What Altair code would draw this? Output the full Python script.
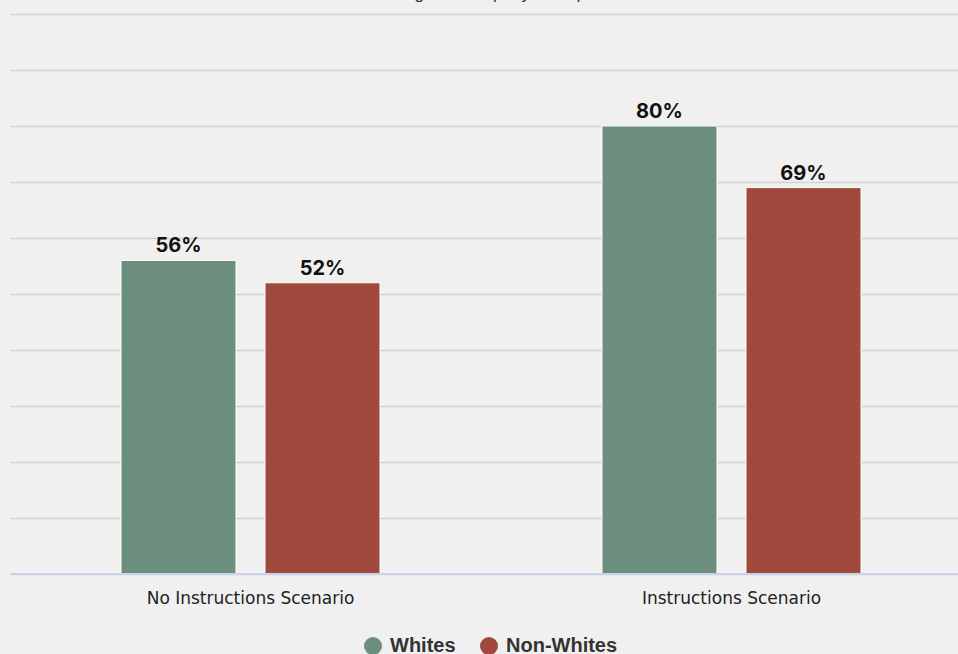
import altair as alt
import pandas as pd

scenarios = ["No Instructions Scenario", "Instructions Scenario"]
groups = ["Whites", "Non-Whites"]
whites = [56, 80]
non_whites = [52, 69]
title_text = "Percentage of Company's Responses"

rows = []
for i, s in enumerate(scenarios):
    rows.append({"scenario": s, "group": "Whites", "value": whites[i]})
    rows.append({"scenario": s, "group": "Non-Whites", "value": non_whites[i]})
df = pd.DataFrame(rows)

yscale = alt.Scale(domain=[0, 100], nice=False)
yaxis = alt.Axis(labels=False, ticks=False, domain=False,
                 values=list(range(0, 101, 10)),
                 gridColor="#d2d2d2", gridWidth=1.5)

x_enc = alt.X("scenario:N", sort=scenarios, title=None,
              scale=alt.Scale(range=[0, 962], paddingInner=0, paddingOuter=0),
              axis=alt.Axis(labelAngle=0, labelFont="DejaVu Sans", labelFontSize=17,
                            labelColor="#222222", labelPadding=16, ticks=False,
                            domain=False, grid=False, labelLimit=0))
xo_enc = alt.XOffset("group:N", sort=groups,
                     scale=alt.Scale(paddingInner=0.2014, paddingOuter=0.7708))

base = alt.Chart(df).encode(x=x_enc, xOffset=xo_enc)

bars = base.mark_bar(stroke="white", strokeWidth=1).encode(
    y=alt.Y("value:Q", title=None, scale=yscale, axis=yaxis),
    color=alt.Color("group:N", sort=groups,
                    scale=alt.Scale(domain=groups, range=["#6b8f7c", "#a0493d"]),
                    legend=alt.Legend(title=None, orient="none", direction="horizontal",
                                      legendX=353, legendY=622, symbolType="circle",
                                      symbolSize=324, symbolStrokeWidth=0,
                                      labelFont="Liberation Sans", labelFontSize=20,
                                      labelFontWeight="bold", labelColor="#333333",
                                      labelOffset=7, columnPadding=23, padding=0)),
)

labels = base.mark_text(font="Inter", fontSize=20, fontWeight="bold", color="#111111",
                        baseline="alphabetic", dy=-8).encode(
    y=alt.Y("value:Q", title=None, scale=yscale, axis=yaxis),
    text=alt.Text("label:N"),
).transform_calculate(label="datum.value + '%'")

baseline = alt.Chart(pd.DataFrame({"value": [0]})).mark_rule(color="#c8d2ea", strokeWidth=2).encode(
    y=alt.Y("value:Q", title=None, scale=yscale, axis=yaxis),
)

title = alt.Chart(pd.DataFrame({"t": [title_text]})).mark_text(
    font="Liberation Sans", fontSize=17, color="#333333", baseline="alphabetic", align="center"
).encode(text="t:N", x=alt.value(479), y=alt.value(-15))

chart = alt.layer(bars, baseline, labels, title).properties(
    width=948, height=560,
    autosize=alt.AutoSizeParams(type="none"),
    padding={"left": 10, "top": 14, "right": 0, "bottom": 80},
    background="#f0f0f0",
).configure_view(stroke=None)

chart.save("out.html", embed_options={"renderer": "svg", "actions": False})
